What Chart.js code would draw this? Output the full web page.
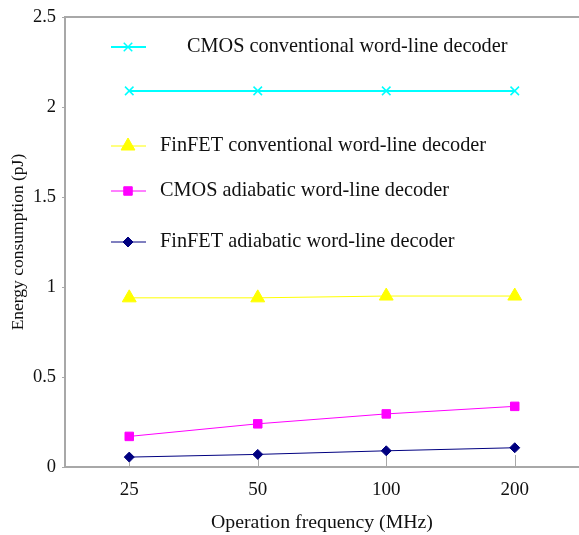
<!DOCTYPE html>
<html>
<head>
<meta charset="utf-8">
<script src="https://cdn.jsdelivr.net/npm/chart.js@4"></script>
<style>
  html, body { margin: 0; padding: 0; background: #fff; overflow: hidden; }
  canvas { display: block; }
</style>
</head>
<body>
<canvas id="grafico" width="579" height="535"></canvas>
<script>
// categorias e séries
const frequencias = ['25', '50', '100', '200'];
const cmosConv = [2.09, 2.09, 2.09, 2.09];
const finfetConv = [0.94, 0.94, 0.95, 0.95];
const cmosAdiab = [0.17, 0.24, 0.295, 0.337];
const finfetAdiab = [0.055, 0.07, 0.09, 0.107];
const yTicks = [0, 0.5, 1, 1.5, 2, 2.5];

const fonte = '"Liberation Serif", "Times New Roman", serif';
const cinza = '#a8a8a8';

// legenda desenhada dentro da área do gráfico
const legendaPlugin = {
  id: 'legendaInterna',
  afterDatasetsDraw(chart) {
    const ctx = chart.ctx;
    const linhas = [
      { y: 47, tx: 187 },
      { y: 146, tx: 160 },
      { y: 191, tx: 160 },
      { y: 242, tx: 160 }
    ];
    chart.data.datasets.forEach((ds, i) => {
      const l = linhas[i];
      ctx.save();
      ctx.strokeStyle = ds.borderColor;
      ctx.fillStyle = ds.backgroundColor;
      ctx.lineWidth = ds.borderWidth;
      ctx.beginPath();
      ctx.moveTo(111, l.y);
      ctx.lineTo(146, l.y);
      ctx.stroke();
      ctx.lineWidth = ds.pointBorderWidth || 1;
      Chart.helpers.drawPoint(ctx, {
        pointStyle: ds.pointStyle,
        radius: ds.pointRadius,
        borderWidth: ds.pointBorderWidth || 1,
        rotation: 0
      }, 128, l.y);
      ctx.fillStyle = '#111';
      ctx.font = '20.3px ' + fonte;
      ctx.textBaseline = 'middle';
      ctx.fillText(ds.label, l.tx, l.y);
      ctx.restore();
    });
  }
};

// borda superior e marcas internas no eixo x
const bordaPlugin = {
  id: 'bordas',
  beforeDatasetsDraw(chart) {
    const { ctx, chartArea } = chart;
    const xs = chart.scales.x;
    ctx.save();
    ctx.strokeStyle = cinza;
    ctx.lineWidth = 2;
    ctx.beginPath();
    ctx.moveTo(chartArea.left, chartArea.top);
    ctx.lineTo(chartArea.right, chartArea.top);
    ctx.stroke();
    ctx.lineWidth = 1;
    frequencias.forEach((f, i) => {
      const x = Math.round(xs.getPixelForValue(i)) + 0.5;
      ctx.beginPath();
      ctx.moveTo(x, chartArea.bottom);
      ctx.lineTo(x, chartArea.bottom - 12);
      ctx.stroke();
    });
    ctx.restore();
  }
};

const ctx = document.getElementById('grafico').getContext('2d');
new Chart(ctx, {
  type: 'line',
  data: {
    labels: frequencias,
    datasets: [
      {
        label: 'CMOS conventional word-line decoder',
        data: cmosConv,
        borderColor: '#00ffff',
        backgroundColor: '#00ffff',
        borderWidth: 2,
        pointStyle: 'crossRot',
        pointRadius: 6,
        pointBorderWidth: 1.5
      },
      {
        label: 'FinFET conventional word-line decoder',
        data: finfetConv,
        borderColor: '#ffff00',
        backgroundColor: '#ffff00',
        borderWidth: 1,
        pointStyle: 'triangle',
        pointRadius: 8,
        pointBorderWidth: 1
      },
      {
        label: 'CMOS adiabatic word-line decoder',
        data: cmosAdiab,
        borderColor: '#ff00ff',
        backgroundColor: '#ff00ff',
        borderWidth: 1,
        pointStyle: 'rect',
        pointRadius: 6,
        pointBorderWidth: 1
      },
      {
        label: 'FinFET adiabatic word-line decoder',
        data: finfetAdiab,
        borderColor: '#000080',
        backgroundColor: '#000080',
        borderWidth: 1,
        pointStyle: 'rectRot',
        pointRadius: 5,
        pointBorderWidth: 1
      }
    ]
  },
  options: {
    responsive: false,
    animation: false,
    layout: { autoPadding: false, padding: { top: 15, right: 0, left: 0, bottom: 0 } },
    plugins: {
      legend: { display: false },
      tooltip: { enabled: false }
    },
    elements: { line: { tension: 0 } },
    scales: {
      x: {
        offset: true,
        grid: { display: false, drawTicks: false },
        border: { display: true, color: cinza, width: 2 },
        ticks: {
          color: '#111',
          font: { family: fonte, size: 19 },
          padding: 12,
          maxRotation: 0
        },
        title: {
          display: true,
          text: 'Operation frequency (MHz)',
          color: '#111',
          font: { family: fonte, size: 19.8 },
          padding: { top: 0, bottom: 0 }
        },
        afterFit(scale) {
          scale.height = 68;
          scale.paddingRight = 0;
        }
      },
      y: {
        min: 0,
        max: 2.5,
        afterBuildTicks(scale) {
          scale.ticks = yTicks.map(v => ({ value: v }));
        },
        grid: { drawOnChartArea: false, drawTicks: true, tickLength: 3, color: cinza },
        border: { display: true, color: cinza, width: 2 },
        ticks: {
          color: '#111',
          font: { family: fonte, size: 18.5 },
          padding: 6,
          callback: v => String(v)
        },
        title: {
          display: true,
          text: 'Energy consumption (pJ)',
          color: '#111',
          font: { family: fonte, size: 17.5 },
          padding: { top: 8, bottom: 0 }
        },
        afterFit(scale) { scale.width = 65; }
      }
    }
  },
  plugins: [bordaPlugin, legendaPlugin]
});
</script>
</body>
</html>
